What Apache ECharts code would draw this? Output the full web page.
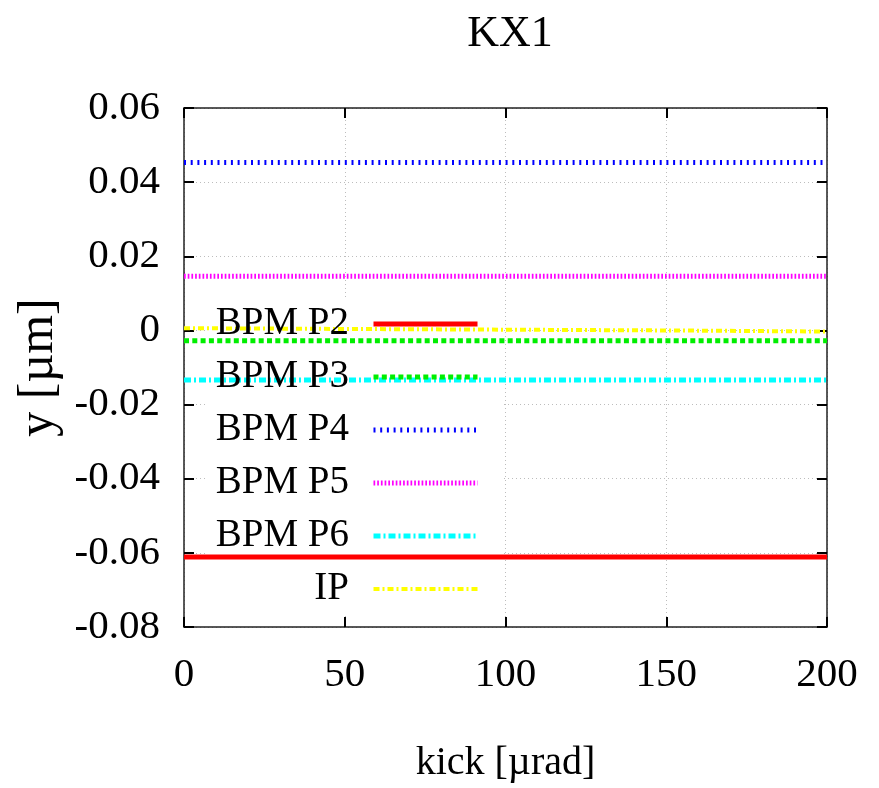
<!DOCTYPE html>
<html>
<head>
<meta charset="utf-8">
<script src="https://cdn.jsdelivr.net/npm/echarts@6/dist/echarts.min.js"></script>
<style>
  html, body { margin: 0; padding: 0; background: #fff; }
  #chart { width: 879px; height: 788px; }
</style>
</head>
<body>
<div id="chart"></div>
<script>
// kick values [µrad] and y readings [µm] per monitor
var kicks = [0, 50, 100, 150, 200];
var bpmP2 = [-0.0611, -0.0611, -0.0611, -0.0611, -0.0611];
var bpmP3 = [-0.0028, -0.0028, -0.0028, -0.0028, -0.0028];
var bpmP4 = [0.0453, 0.0453, 0.0453, 0.0453, 0.0453];
var bpmP5 = [0.0146, 0.0146, 0.0146, 0.0146, 0.0146];
var bpmP6 = [-0.0134, -0.0134, -0.0134, -0.0134, -0.0134];
var ipY   = [0.0006, 0.0004, 0.0002, 0.0000, -0.0003];

var seriesNames = ['BPM P2', 'BPM P3', 'BPM P4', 'BPM P5', 'BPM P6', 'IP'];
var seriesData = [bpmP2, bpmP3, bpmP4, bpmP5, bpmP6, ipY];
var seriesColors = ['#ff0000', '#00ee00', '#0000ff', '#ff00ff', '#00ffff', '#ffff00'];
var seriesWidths = [5, 5, 5, 5, 5, 4];
var seriesDash = ['solid', [5, 3.3], [2, 4.7], [1.7, 2], [7, 3, 2, 3], [6, 3, 2, 3]];

var font = 'Liberation Serif, Times New Roman, serif';

function pairs(ys) {
    return kicks.map(function (k, i) { return [k, ys[i]]; });
}

var dom = document.getElementById('chart');
var myChart = echarts.init(dom);

var series = seriesNames.map(function (name, i) {
    return {
        name: name,
        type: 'line',
        data: pairs(seriesData[i]),
        showSymbol: false,
        symbol: 'none',
        animation: false,
        lineStyle: {
            color: seriesColors[i],
            width: seriesWidths[i],
            type: seriesDash[i]
        },
        itemStyle: { color: seriesColors[i] },
        z: 3
    };
});

// legend samples keep the full line width of each curve
var legendItems = seriesNames.map(function (name, i) {
    return {
        name: name,
        lineStyle: { width: seriesWidths[i], type: seriesDash[i], color: seriesColors[i] }
    };
});

var axisLine = { show: true, onZero: false, lineStyle: { color: '#222', width: 1.5 } };
var tick = { show: true, inside: true, length: 10, lineStyle: { color: '#000', width: 2 } };
var gridLine = { show: true, lineStyle: { color: '#bdbdbd', width: 1, type: [1, 3] } };

var option = {
    backgroundColor: '#fff',
    animation: false,
    title: {
        text: 'KX1',
        left: 505,
        top: 7,
        textAlign: 'center',
        textStyle: { fontFamily: font, fontSize: 44, fontWeight: 'normal', color: '#000' }
    },
    grid: { left: 184, right: 52, top: 108, bottom: 159 },
    legend: {
        data: legendItems,
        orient: 'vertical',
        align: 'right',
        right: 399,
        top: 304,
        padding: 0,
        itemWidth: 104,
        itemHeight: 14,
        itemGap: 13,
        selectedMode: false,
        itemStyle: { opacity: 0 },
        formatter: function (n) { return n + '  '; },
        textStyle: { fontFamily: font, fontSize: 39, color: '#000', lineHeight: 40 }
    },
    graphic: [{
        // opaque key box, sits above the grid but below the curves
        type: 'rect',
        shape: { x: 208, y: 300, width: 295, height: 315 },
        style: { fill: '#fff' },
        z: 1,
        silent: true
    }],
    xAxis: [{
        type: 'value',
        min: 0, max: 200, interval: 50,
        name: 'kick [µrad]',
        nameLocation: 'middle',
        nameGap: 116,
        nameTextStyle: { fontFamily: font, fontSize: 40, color: '#000' },
        axisLine: axisLine,
        axisTick: tick,
        splitLine: gridLine,
        axisLabel: { fontFamily: font, fontSize: 41, color: '#000', margin: 28 }
    }, {
        type: 'value',
        position: 'top',
        min: 0, max: 200, interval: 50,
        axisLine: axisLine,
        axisTick: tick,
        splitLine: { show: false },
        axisLabel: { show: false }
    }],
    yAxis: [{
        type: 'value',
        min: -0.08, max: 0.06, interval: 0.02,
        name: 'y [µm]',
        nameLocation: 'middle',
        nameGap: 117,
        nameTextStyle: { fontFamily: font, fontSize: 50, color: '#000' },
        axisLine: axisLine,
        axisTick: tick,
        splitLine: gridLine,
        axisLabel: {
            fontFamily: font, fontSize: 41, color: '#000', margin: 24,
            formatter: function (v) {
                if (Math.abs(v) < 1e-9) return '0';
                return v.toFixed(2);
            }
        }
    }, {
        type: 'value',
        position: 'right',
        min: -0.08, max: 0.06, interval: 0.02,
        axisLine: axisLine,
        axisTick: tick,
        splitLine: { show: false },
        axisLabel: { show: false }
    }],
    series: series
};

if (option && typeof option === "object") {
    myChart.setOption(option, true);
}
</script>
</body>
</html>
